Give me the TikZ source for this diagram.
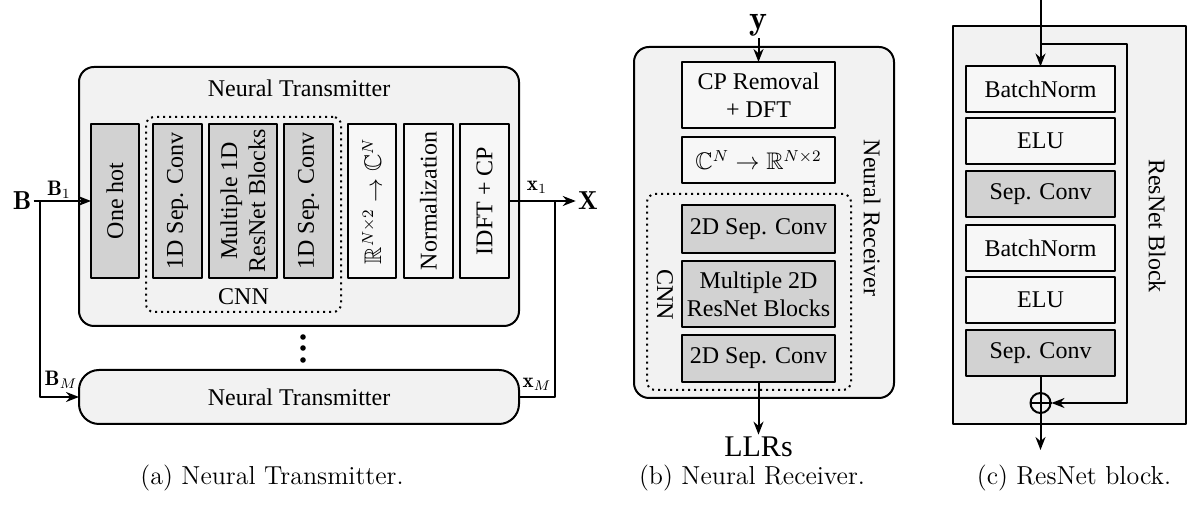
\documentclass[tikz,border=0pt]{standalone}
\usepackage{amssymb}
\usepackage{fontspec}
\newfontfamily\blockfont{Liberation Serif}
\usetikzlibrary{arrows.meta}

\tikzset{
  blk/.style={draw, line width=1pt, inner sep=0pt, outer sep=0pt, align=center,
    font=\blockfont\fontsize{12}{14}\selectfont},
  convblk/.style={blk, fill=gray!35},
  mapblk/.style={blk, fill=gray!6},
  panel/.style={draw, line width=1pt, fill=gray!10, inner sep=0pt, outer sep=0pt},
  cnnframe/.style={draw, dotted, line width=1pt, rounded corners=4pt, inner sep=0pt},
  blocklabel/.style={font=\blockfont\fontsize{12}{14}\selectfont},
  sublabel/.style={font=\fontsize{10.5}{12}\selectfont, inner sep=0pt},
  biglabel/.style={font=\fontsize{13}{15}\selectfont, inner sep=1pt},
  caption/.style={font=\fontsize{13}{15}\selectfont},
  sig/.style={line width=1pt, -{Stealth[length=6.5pt,width=5pt]}},
  wire/.style={line width=1pt},
}

\begin{document}
\begin{tikzpicture}[x=0.5pt,y=-0.5pt,line join=round]
  \useasboundingbox (0,0) rectangle (1190,506);
  % (a) Neural transmitter: a bank of M transmitters fed by B
  \node[panel, rounded corners=7.5pt, minimum width=220pt, minimum height=129.5pt]
    (txone) at (299,196.5) {};
  \node[blocklabel] (txtitle) at (299,88) {Neural Transmitter};
  \node[cnnframe, minimum width=97.5pt, minimum height=97.5pt] (cnna) at (243.5,214.5) {};
  \node[blocklabel] (cnnalabel) at (243.5,297) {CNN};
  % upright columns (rotated, so width is the vertical extent)
  \node[convblk, rotate=90, minimum width=77pt, minimum height=24pt] (onehot) at (115,201) {One hot};
  \node[convblk, rotate=90, minimum width=77pt, minimum height=24.5pt] (sepa) at (177.5,201) {1D Sep. Conv};
  \node[convblk, rotate=90, minimum width=77pt, minimum height=34pt] (resa) at (243,201) {Multiple 1D\\ResNet Blocks};
  \node[convblk, rotate=90, minimum width=77pt, minimum height=24.5pt] (sepb) at (308.5,201) {1D Sep. Conv};
  \node[mapblk, rotate=90, minimum width=77pt, minimum height=24pt] (rtoc) at (372,201)
    {$\mathbb{R}^{N\times 2}\rightarrow\mathbb{C}^N$};
  \node[mapblk, rotate=90, minimum width=77pt, minimum height=24.5pt] (norm) at (428.5,201) {Normalization};
  \node[mapblk, rotate=90, minimum width=77pt, minimum height=24.5pt] (idft) at (484.5,201) {IDFT + CP};
  % last transmitter of the bank
  \node[panel, rounded corners=10pt, minimum width=220pt, minimum height=27pt, blocklabel]
    (txlast) at (299,397) {Neural Transmitter};
  \foreach \dy in {337,348,360}
    \fill (303,\dy) circle (1.4pt);
  % inputs and outputs
  \node[biglabel] (bin) at (22,201) {$\mathbf{B}$};
  \coordinate (bsplit) at (40,201);
  \draw[sig] (bin) -- (onehot);
  \draw[sig] (bsplit) |- (txlast);
  \node[sublabel] (bone) at (59,190) {$\mathbf{B}_1$};
  \node[sublabel] (bm) at (61,380) {$\mathbf{B}_M$};
  \node[biglabel] (xout) at (588,201) {$\mathbf{X}$};
  \coordinate (xsplit) at (555,201);
  \draw[sig] (idft) -- (xout);
  \draw[wire] (txlast) -| (xsplit);
  \node[sublabel] (xone) at (537,187) {$\mathbf{x}_1$};
  \node[sublabel] (xm) at (537,384) {$\mathbf{x}_M$};

  % (b) Neural receiver
  \node[panel, rounded corners=7.5pt, minimum width=130pt, minimum height=175.5pt]
    (rxbox) at (764,222.5) {};
  \node[blocklabel, rotate=-90] (rxtitle) at (872,218) {Neural Receiver};
  \node[cnnframe, minimum width=102pt, minimum height=98pt] (cnnb) at (749,292) {};
  \node[blocklabel, rotate=-90] (cnnblabel) at (665,295) {CNN};
  \node[mapblk, minimum width=76.5pt, minimum height=33pt] (cprem) at (758.5,95) {CP Removal\\+ DFT};
  \node[mapblk, minimum width=76.5pt, minimum height=23pt] (ctor) at (758.5,160)
    {$\mathbb{C}^N\rightarrow\mathbb{R}^{N\times 2}$};
  \node[convblk, minimum width=76.5pt, minimum height=24pt] (sepc) at (758.5,229) {2D Sep. Conv};
  \node[convblk, minimum width=76.5pt, minimum height=33pt] (resb) at (758.5,294) {Multiple 2D\\ResNet Blocks};
  \node[convblk, minimum width=76.5pt, minimum height=23.5pt] (sepd) at (758.5,358.5) {2D Sep. Conv};
  \node[font=\fontsize{17}{19}\selectfont, inner sep=1pt] (yin) at (758.5,25) {$\mathbf{y}$};
  \node[font=\blockfont\fontsize{15}{17}\selectfont, inner sep=1pt] (llr) at (758.5,447) {LLRs};
  \draw[sig] (yin) -- (cprem);
  \draw[sig] (sepd) -- (llr);

  % (c) ResNet block with skip connection
  \node[panel, minimum width=116.5pt, minimum height=199pt] (resblk) at (1069.5,225) {};
  \node[blocklabel, rotate=-90] (restitle) at (1157,226) {ResNet Block};
  \node[mapblk, minimum width=74.5pt, minimum height=23pt] (bna) at (1040.5,89.5) {BatchNorm};
  \node[mapblk, minimum width=74.5pt, minimum height=23pt] (elua) at (1040.5,141) {ELU};
  \node[convblk, minimum width=74.5pt, minimum height=23pt] (sca) at (1040.5,194.5) {Sep. Conv};
  \node[mapblk, minimum width=74.5pt, minimum height=23pt] (bnb) at (1040.5,248) {BatchNorm};
  \node[mapblk, minimum width=74.5pt, minimum height=23pt] (elub) at (1040.5,300) {ELU};
  \node[convblk, minimum width=74.5pt, minimum height=23pt] (scb) at (1040.5,353) {Sep. Conv};
  \node[draw, circle, line width=1pt, minimum size=10pt, inner sep=0pt] (plus) at (1040.5,403) {};
  \coordinate (resin) at (1040.5,0);
  \coordinate (skip) at (1040.5,44);
  \coordinate (skipr) at (1127,44);
  \coordinate (resout) at (1040.5,450);
  \draw[sig] (resin) -- (bna);
  \draw[sig] (skip) -- (skipr) |- (plus);
  \draw[wire] (scb) -- (plus.north);
  \draw[wire] (plus.west) -- (plus.east);
  \draw[sig] (plus.north) -- (resout);

  % captions
  \node[caption] (capa) at (272,478) {(a) Neural Transmitter.};
  \node[caption] (capb) at (752,478) {(b) Neural Receiver.};
  \node[caption] (capc) at (1074,478) {(c) ResNet block.};
\end{tikzpicture}
\end{document}
